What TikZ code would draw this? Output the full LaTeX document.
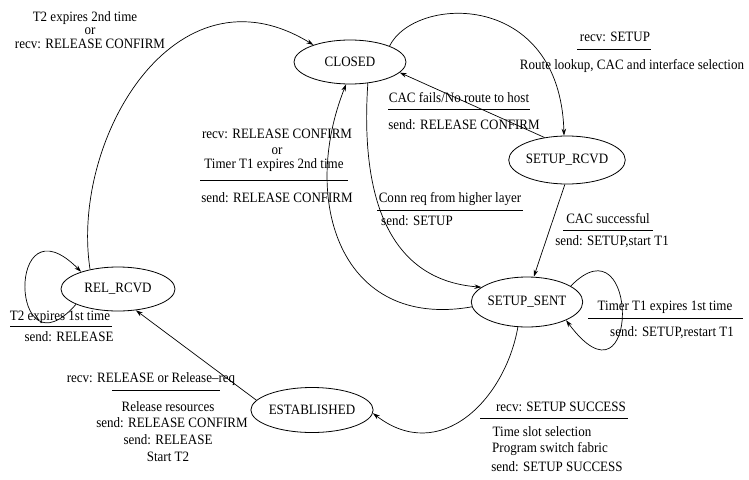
\documentclass[tikz,border=0pt]{standalone}
\usepackage{fontspec}
\setmainfont{Liberation Serif}[FakeStretch=0.91]
\usetikzlibrary{shapes.geometric,arrows.meta}
\begin{document}
\begin{tikzpicture}[x=1pt,y=-1pt,
  state/.style={ellipse,draw,line width=0.8pt,inner sep=0pt,font=\fontsize{14.3}{16}\selectfont},
  lbl/.style={inner sep=0pt,font=\fontsize{14.3}{16}\selectfont},
  edge/.style={line width=0.7pt,-{Stealth[length=7pt,width=4.5pt]}},
  rl/.style={line width=0.7pt}]
\useasboundingbox (0,0) rectangle (749,479);
\fill[white] (0,0) rectangle (749,479);
% states
\node[state,minimum width=112pt,minimum height=44pt] (closed) at (350,62) {CLOSED};
\node[state,minimum width=110pt,minimum height=48pt] (setuprcvd) at (567,160) {SETUP\_RCVD};
\node[state,minimum width=110pt,minimum height=50pt] (setupsent) at (527,302) {SETUP\_SENT};
\node[state,minimum width=114pt,minimum height=44pt] (relrcvd) at (118,289) {REL\_RCVD};
\node[state,minimum width=110pt,minimum height=45pt] (established) at (312,410) {ESTABLISHED};
% transitions
\draw[edge] (closed.22) .. controls (415,-5) and (560,-10) .. (setuprcvd.97);
\draw[edge] (setuprcvd.135) -- (closed.-12);
\draw[edge] (setuprcvd.-95) -- (setupsent.75);
\draw[edge] (closed.-50) .. controls (360,200) and (390,280) .. (setupsent.162);
\draw[edge] (setupsent.185) .. controls (340,330) and (300,200) .. (closed.-100);
\draw[edge] (setupsent.20) .. controls (640,215) and (640,420) .. (setupsent.-25);
\draw[edge] (setupsent.-110) .. controls (505,400) and (440,465) .. (established.-3);
\draw[edge] (established.170) -- (relrcvd.-50);
\draw[edge] (relrcvd.200) .. controls (10,380) and (5,195) .. (relrcvd.155);
\draw[edge] (relrcvd.145) .. controls (70,140) and (175,-40) .. (closed.155);
% labels
\node[lbl] (l1a) at (85,18) {T2 expires 2nd time};
\node[lbl] (l1b) at (90,31) {or};
\node[lbl] (l1c) at (90,44) {recv: RELEASE CONFIRM};

\node[lbl] (l2a) at (615,37) {recv: SETUP};
\draw[rl] (577,49) -- (651,49);
\node[lbl] (l2b) at (632,66) {Route lookup, CAC and interface selection};

\node[lbl] (l3a) at (459,98) {CAC fails/No route to host};
\draw[rl] (388,109) -- (530,109);
\node[lbl] (l3b) at (464,125) {send: RELEASE CONFIRM};

\node[lbl] (l4a) at (277,134) {recv: RELEASE CONFIRM};
\node[lbl] (l4b) at (277,151) {or};
\node[lbl] (l4c) at (274,165) {Timer T1 expires 2nd time};
\draw[rl] (200,180) -- (348,180);
\node[lbl] (l4d) at (277,198) {send: RELEASE CONFIRM};

\node[lbl] (l5a) at (450,199) {Conn req from higher layer};
\draw[rl] (377,210) -- (523,210);
\node[lbl] (l5b) at (417,221) {send: SETUP};

\node[lbl] (l6a) at (608,219) {CAC successful};
\draw[rl] (563,230) -- (653,230);
\node[lbl] (l6b) at (612,242) {send: SETUP,start T1};

\node[lbl] (l7a) at (665,307) {Timer T1 expires 1st time};
\draw[rl] (588,318) -- (743,318);
\node[lbl] (l7b) at (672,333) {send: SETUP,restart T1};

\node[lbl] (l8a) at (561,407) {recv: SETUP SUCCESS};
\draw[rl] (480,418) -- (628,418);
\node[lbl] (l8b) at (542,432) {Time slot selection};
\node[lbl] (l8c) at (550,449) {Program switch fabric};
\node[lbl] (l8d) at (557,467) {send: SETUP SUCCESS};

\node[lbl] (l9a) at (60,317) {T2 expires 1st time};
\draw[rl] (10,326) -- (112,326);
\node[lbl] (l9b) at (69,337) {send: RELEASE};

\node[lbl] (l10a) at (151,379) {recv: RELEASE or Release--req};
\draw[rl] (112,390) -- (220,390);
\node[lbl] (l10b) at (168,407) {Release resources};
\node[lbl] (l10c) at (172,423) {send: RELEASE CONFIRM};
\node[lbl] (l10d) at (168,440) {send: RELEASE};
\node[lbl] (l10e) at (168,457) {Start T2};
\end{tikzpicture}
\end{document}
